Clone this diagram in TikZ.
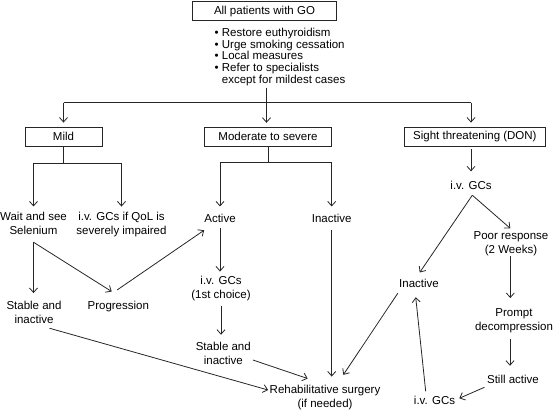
\documentclass[tikz,border=0pt]{standalone}
\usepackage{fontspec}
\setmainfont{Liberation Sans}
\usetikzlibrary{arrows.meta}
\newcommand\labf{\fontsize{11.5}{14}\selectfont}
\newcommand\listf{\fontsize{11.5}{11.7}\selectfont}
\begin{document}
\begin{tikzpicture}[x=1pt,y=-1pt,
  ln/.style={line width=0.8pt, draw=black!85},
  arr/.style={ln, -{Straight Barb[length=4.5pt,width=8pt]}},
  box/.style={draw=black!85, line width=0.8pt, minimum height=19pt, inner sep=0pt, font=\labf},
  lab/.style={inner sep=0pt, align=center, font=\labf}]
\useasboundingbox (0,0) rectangle (553,410);

% boxes
\node[box, minimum width=144.4pt] (top) at (264.5,11.2) {All patients with GO};
\node[inner sep=0pt, align=left, anchor=north west, font=\listf] (list) at (214.5,28)
  {• Restore euthyroidism\\• Urge smoking cessation\\• Local measures\\• Refer to specialists\\\phantom{• }except for mildest cases};
\node[box, minimum width=77pt] (mild) at (63.5,136.5) {Mild};
\node[box, minimum width=127.4pt] (mod) at (268,136.7) {Moderate to severe};
\node[box, minimum width=141.7pt] (don) at (474.9,136.5) {Sight threatening (DON)};

% labels
\node[lab] (wait) at (33.5,223.6) {Wait and see\\Selenium};
\node[lab] (ivq) at (121.5,224.8) {i.v. GCs if QoL is\\severely impaired};
\node[lab] (stab1) at (34,311.9) {Stable and\\inactive};
\node[lab] (prog) at (118.3,306.1) {Progression};
\node[lab] (active) at (220,218.2) {Active};
\node[lab] (inact1) at (331.7,218.2) {Inactive};
\node[lab] (ivg1) at (221,289) {i.v. GCs\\(1st choice)};
\node[lab] (stab2) at (223.3,353.6) {Stable and\\inactive};
\node[lab] (rehab) at (325,397.4) {Rehabilitative surgery\\(if needed)};
\node[lab] (ivg2) at (471,185.4) {i.v. GCs};
\node[lab] (poor) at (511,244.1) {Poor response\\(2 Weeks)};
\node[lab] (inact2) at (419,282.9) {Inactive};
\node[lab] (prompt) at (514,321) {Prompt\\decompression};
\node[lab] (still) at (513,379.2) {Still active};
\node[lab] (ivg3) at (434.5,400.6) {i.v. GCs};

% top distribution
\coordinate (jm) at (266.5,102.5);
\draw[ln, shorten <=1.7pt] (list.south -| jm) -- (jm);
\draw[ln] (mild.north |- jm) -- (ivg2.north |- jm);
\draw[arr, shorten >=4pt] (mild.north |- jm) -- (mild.north);
\draw[arr, shorten >=4pt] (jm) -- (jm |- mod.north);
\draw[arr, shorten >=4pt] (ivg2.north |- jm) -- (ivg2.north |- don.north);

% mild branch
\draw[ln] (mild.south) -- ++(0,16.7) coordinate (mj);
\draw[ln] (mj -| wait) -- (mj -| ivq);
\draw[arr, shorten >=5.7pt] (mj -| wait) -- (wait.north);
\draw[arr, shorten >=5.7pt] (mj -| ivq) -- (ivq.north);
\draw[arr, shorten <=7pt, shorten >=7.4pt] (wait.south) -- (wait.south |- stab1.north);
\draw[arr] ([yshift=-7.2pt]wait.south) -- ([xshift=-6.6pt,yshift=9pt]prog.north);
\draw[arr] ([xshift=-1pt,yshift=10.7pt]prog.north) -- ([yshift=-7.6pt]active.south west);
\draw[arr] ([xshift=15.5pt,yshift=-4.9pt]stab1.south) -- ([xshift=-1.4pt,yshift=7.4pt]rehab.west);

% moderate branch
\draw[ln] (mod.south) -- ++(0,15.7) coordinate (mdj);
\draw[ln] (mdj -| active) -- (mdj -| inact1);
\draw[arr, shorten >=7.3pt] (mdj -| active) -- (active.north);
\draw[arr, shorten >=7.3pt] (mdj -| inact1) -- (inact1.north);
\draw[arr, shorten <=5.6pt, shorten >=4.9pt] (active.south) -- (active.south |- ivg1.north);
\draw[arr, shorten <=4.6pt, shorten >=7.4pt] (ivg1.south) -- (ivg1.south |- stab2.north);
\draw[arr] ([xshift=1.9pt,yshift=-6.4pt]stab2.east) -- ([xshift=-17.3pt,yshift=6.3pt]rehab.north);
\draw[arr, shorten <=7.6pt, shorten >=8.3pt] (inact1.south) -- (inact1.south |- rehab.north);

% sight threatening branch
\draw[arr, shorten <=3pt, shorten >=9.6pt] (ivg2.north |- don.south) -- (ivg2.north);
\draw[arr] ([xshift=1.3pt,yshift=-5.4pt]ivg2.south) -- ([xshift=0.7pt,yshift=6pt]inact2.north);
\draw[arr] ([xshift=1.3pt,yshift=-5.4pt]ivg2.south) -- ([xshift=-0.7pt,yshift=3.4pt]poor.north);
\draw[arr, shorten >=10.6pt] ([xshift=-0.7pt]poor.south) -- ([xshift=-0.7pt]poor.south |- prompt.north);
\draw[arr, shorten <=5.9pt, shorten >=9pt] ([xshift=-4pt]prompt.south) -- ([xshift=-4pt]prompt.south |- still.north);
\draw[arr] ([xshift=-2.5pt,yshift=-8.1pt]still.west) -- ([xshift=4pt,yshift=2.3pt]ivg3.east);
\draw[arr] ([xshift=-8.8pt,yshift=4.8pt]ivg3.north) -- ([xshift=-3.3pt,yshift=-9.9pt]inact2.south);
\draw[arr] ([xshift=-1.2pt,yshift=-5.9pt]inact2.south west) -- ([xshift=18.3pt,yshift=10pt]rehab.north);
\end{tikzpicture}
\end{document}
